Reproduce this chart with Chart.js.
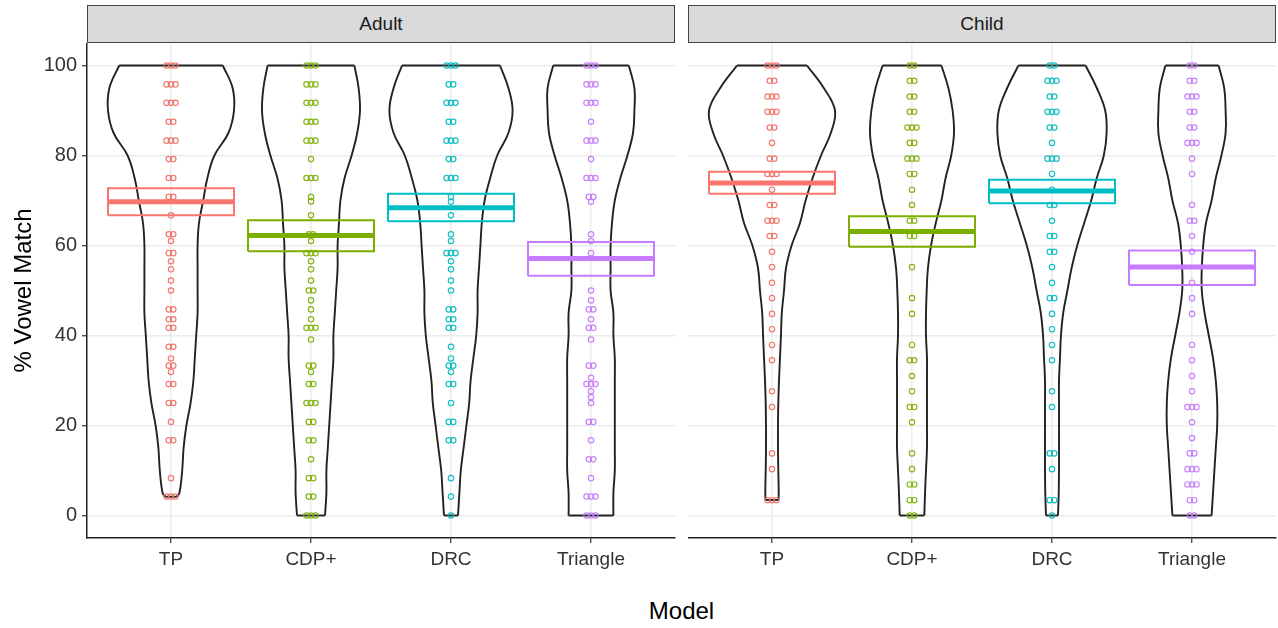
<!DOCTYPE html>
<html>
<head>
<meta charset="utf-8">
<script src="https://cdn.jsdelivr.net/npm/chart.js@4.4.1/dist/chart.umd.min.js"></script>
<style>
  body { margin: 0; background: #fff; }
  #page { position: relative; width: 1278px; height: 628px; font-family: 'Liberation Sans', Arial, sans-serif; }
  .strip {
    position: absolute; top: 5px; width: 588px; height: 38px; box-sizing: border-box;
    background: #d9d9d9; border: 1px solid #444; border-bottom-width: 1.5px;
    text-align: center; line-height: 36px; font-size: 19px; color: #1a1a1a;
  }
  .panel { position: absolute; top: 43px; height: 535px; }
  #xtitle { position: absolute; left: 87px; width: 1189px; top: 597px; text-align: center; font-size: 24px; color: #000; }
</style>
</head>
<body>
<div id="page">
  <div class="strip" style="left:87px">Adult</div>
  <div class="strip" style="left:688px">Child</div>
  <div class="panel" style="left:0; width:676px"><canvas id="adultChart"></canvas></div>
  <div class="panel" style="left:688px; width:590px"><canvas id="childChart"></canvas></div>
  <div id="xtitle">Model</div>
</div>
<script>
const models = ['TP', 'CDP+', 'DRC', 'Triangle'];
const yTicks = [0, 20, 40, 60, 80, 100];

// violin outline: half width (in category units) at these % levels
const violinLevels = [0, 5, 10, 15, 20, 25, 30, 35, 40, 45, 50, 55, 60, 65, 70, 75, 80, 85, 90, 95, 100];

const adultViolinTP = [.04, .06, .08, .09, .11, .14, .16, .17, .18, .19, .19, .19, .19, .20, .23, .26, .31, .41, .45, .44, .37];
const adultViolinCDP = [.10, .11, .11, .12, .13, .14, .15, .16, .16, .17, .18, .19, .19, .20, .21, .24, .29, .33, .35, .34, .31];
const adultViolinDRC = [.05, .06, .07, .09, .11, .13, .14, .16, .18, .19, .19, .20, .21, .22, .24, .28, .33, .41, .44, .41, .35];
const adultViolinTriangle = [.16, .16, .17, .17, .17, .17, .17, .17, .16, .16, .14, .14, .14, .15, .17, .21, .26, .30, .31, .31, .27];
const adultViolinMin = [4.17, 0, 0, 0];

const childViolinTP = [.046, .048, .045, .043, .043, .045, .05, .057, .064, .07, .086, .10, .14, .20, .24, .29, .35, .42, .45, .37, .25];
const childViolinCDP = [.088, .093, .10, .107, .107, .107, .107, .107, .10, .10, .105, .114, .136, .17, .21, .24, .28, .30, .29, .26, .21];
const childViolinDRC = [.043, .048, .05, .05, .05, .05, .05, .057, .064, .08, .11, .14, .18, .23, .28, .32, .37, .39, .38, .32, .24];
const childViolinTriangle = [.14, .15, .16, .17, .18, .18, .17, .15, .12, .09, .07, .07, .08, .10, .14, .17, .21, .24, .24, .23, .19];
const childViolinMin = [3.45, 0, 0, 0];

// crossbars: mean and interval
const adultMean = [69.7, 62.2, 68.4, 57.1];
const adultLow = [66.7, 58.7, 65.4, 53.3];
const adultHigh = [72.7, 65.6, 71.5, 60.8];
const childMean = [73.9, 63.1, 72.1, 55.2];
const childLow = [71.5, 59.7, 69.4, 51.2];
const childHigh = [76.4, 66.5, 74.6, 58.9];

// individual scores
const adultPointsTP = [100, 100, 100, 95.8, 95.8, 95.8, 91.7, 91.7, 91.7, 87.5, 87.5, 83.3, 83.3, 83.3, 79.2, 79.2, 75, 75, 70.8, 70.8, 66.7, 62.5, 62.5, 61.0, 58.3, 58.3, 56.5, 54.7, 52.2, 50, 45.8, 45.8, 43.6, 43.6, 41.7, 41.7, 37.5, 37.5, 34.9, 33.3, 33.3, 31.9, 29.2, 29.2, 25, 25, 20.8, 16.7, 16.7, 8.3, 4.2, 4.2, 4.2];
const adultPointsCDP = [100, 100, 100, 95.8, 95.8, 95.8, 91.7, 91.7, 91.7, 87.5, 87.5, 87.5, 83.3, 83.3, 83.3, 79.2, 75, 75, 75, 70.8, 69.8, 66.7, 62.5, 62.5, 61.0, 58.3, 58.3, 58.3, 56.5, 54.7, 52.2, 50, 50, 47.8, 45.8, 43.6, 41.7, 41.7, 41.7, 39.1, 33.3, 33.3, 31.9, 29.2, 29.2, 25, 25, 25, 20.8, 20.8, 16.7, 16.7, 12.5, 8.3, 8.3, 4.2, 4.2, 0, 0, 0];
const adultPointsDRC = [100, 100, 100, 95.8, 95.8, 91.7, 91.7, 91.7, 87.5, 87.5, 83.3, 83.3, 83.3, 79.2, 79.2, 75, 75, 75, 70.8, 69.7, 66.7, 62.5, 61.0, 58.3, 58.3, 58.3, 56.5, 54.7, 52.2, 50, 45.8, 45.8, 43.6, 43.6, 41.7, 41.7, 37.5, 34.9, 33.3, 33.3, 31.9, 29.2, 29.2, 25, 20.8, 20.8, 16.7, 16.7, 8.3, 4.2, 0];
const adultPointsTriangle = [100, 100, 100, 95.8, 95.8, 95.8, 91.7, 91.7, 91.7, 87.5, 83.3, 83.3, 83.3, 79.2, 75, 75, 75, 70.8, 70.8, 69.7, 62.5, 61.0, 58.3, 50, 47.8, 45.8, 45.8, 43.6, 41.7, 41.7, 39.1, 33.3, 33.3, 30.6, 29.2, 29.2, 29.2, 27.6, 26.3, 25, 20.8, 20.8, 16.7, 12.5, 12.5, 8.3, 4.2, 4.2, 4.2, 0, 0, 0];

const childPointsTP = [100, 100, 100, 96.6, 96.6, 93.1, 93.1, 93.1, 89.7, 89.7, 89.7, 86.2, 86.2, 82.8, 79.3, 79.3, 75.9, 75.9, 75.9, 72.4, 69.0, 69.0, 65.5, 65.5, 65.5, 62.1, 62.1, 58.6, 55.2, 51.7, 48.3, 44.8, 41.4, 37.9, 34.5, 27.6, 24.1, 13.8, 10.3, 3.4, 3.4, 3.4];
const childPointsCDP = [100, 100, 96.6, 96.6, 93.1, 93.1, 89.7, 89.7, 86.2, 86.2, 86.2, 82.8, 82.8, 79.3, 79.3, 79.3, 75.9, 75.9, 72.4, 69.0, 65.5, 65.5, 62.1, 62.1, 55.2, 48.3, 44.8, 37.9, 34.5, 34.5, 31.0, 27.6, 24.1, 24.1, 20.7, 13.8, 10.3, 6.9, 6.9, 3.4, 3.4, 0, 0];
const childPointsDRC = [100, 100, 96.6, 96.6, 96.6, 93.1, 93.1, 89.7, 89.7, 89.7, 86.2, 86.2, 82.8, 79.3, 79.3, 79.3, 75.9, 72.4, 69.0, 69.0, 65.5, 62.1, 62.1, 58.6, 58.6, 55.2, 51.7, 48.3, 48.3, 44.8, 41.4, 37.9, 34.5, 27.6, 24.1, 13.8, 13.8, 10.3, 3.4, 3.4, 0];
const childPointsTriangle = [100, 100, 96.6, 96.6, 93.1, 93.1, 93.1, 89.7, 89.7, 86.2, 86.2, 82.8, 82.8, 82.8, 79.3, 75.9, 69.0, 65.5, 65.5, 62.1, 58.6, 51.7, 48.3, 44.8, 37.9, 34.5, 31.0, 27.6, 24.1, 24.1, 24.1, 20.7, 17.2, 13.8, 13.8, 10.3, 10.3, 10.3, 6.9, 6.9, 6.9, 3.4, 3.4, 0, 0];

const hues = ['#F8766D', '#7CAE00', '#00BFC4', '#C77CFF'];
const pointHues = ['rgba(240,110,100,0.9)', 'rgba(124,174,0,0.9)', 'rgba(0,185,190,0.9)', 'rgba(195,120,250,0.9)'];

Chart.defaults.font.family = "'Liberation Sans', Arial, sans-serif";
Chart.defaults.color = '#333';

function lineSet(data, color, width, order, tension) {
  return {
    data: data, showLine: true, borderColor: color, borderWidth: width,
    backgroundColor: 'transparent', pointRadius: 0, tension: tension || 0,
    borderJoinStyle: 'miter', borderCapStyle: 'butt', order: order
  };
}

function buildDatasets(violins, mins, points, means, lows, highs) {
  const sets = [];
  models.forEach((m, i) => {
    const cx = i + 1;
    const w = violins[i];
    const ys = violinLevels.map(v => Math.max(v, mins[i]));
    const last = ys.length - 1;

    // violin outline
    sets.push(lineSet(ys.map((y, k) => ({ x: cx - w[k], y: y })), '#222', 1.9, 4, 0.4));
    sets.push(lineSet(ys.map((y, k) => ({ x: cx + w[k], y: y })), '#222', 1.9, 4, 0.4));
    sets.push(lineSet([{ x: cx - w[0], y: ys[0] }, { x: cx + w[0], y: ys[0] }], '#222', 1.9, 4));
    sets.push(lineSet([{ x: cx - w[last], y: ys[last] }, { x: cx + w[last], y: ys[last] }], '#222', 1.9, 4));

    // jittered points: spread repeated scores sideways
    const counts = {};
    points[i].forEach(v => { counts[v] = (counts[v] || 0) + 1; });
    const seen = {};
    const pts = points[i].map(v => {
      seen[v] = (seen[v] === undefined) ? 0 : seen[v] + 1;
      return { x: cx + (seen[v] - (counts[v] - 1) / 2) * 0.032, y: v };
    });
    sets.push({
      data: pts, pointRadius: 2.7, pointBorderWidth: 1.2, pointStyle: 'circle',
      borderColor: pointHues[i], backgroundColor: 'transparent', order: 3
    });

    // crossbar
    const hw = 0.45;
    sets.push(lineSet([
      { x: cx - hw, y: lows[i] }, { x: cx + hw, y: lows[i] }, { x: cx + hw, y: highs[i] },
      { x: cx - hw, y: highs[i] }, { x: cx - hw, y: lows[i] }
    ], hues[i], 2, 2));
    sets.push(lineSet([{ x: cx - hw, y: means[i] }, { x: cx + hw, y: means[i] }], hues[i], 5, 1));
  });
  return sets;
}

function makeScales(showY) {
  return {
    x: {
      type: 'linear', min: 0.4, max: 4.6,
      afterBuildTicks: s => { s.ticks = models.map((m, i) => ({ value: i + 1 })); },
      afterFit: s => { s.height = 40; s.paddingLeft = 0; s.paddingRight = 0; },
      ticks: { callback: v => models[v - 1], color: '#333', font: { size: 19 }, padding: 5, maxRotation: 0, autoSkip: false },
      grid: { color: '#ebebeb', lineWidth: 1.5, tickLength: 5, tickColor: '#333', tickWidth: 1.2 },
      border: { color: '#222', width: 1.5 }
    },
    y: {
      min: -5, max: 105,
      afterBuildTicks: s => { s.ticks = yTicks.map(v => ({ value: v })); },
      afterFit: s => { s.width = showY ? 87 : 0; s.paddingTop = 0; s.paddingBottom = 0; },
      ticks: { display: showY, color: '#333', font: { size: 20 }, padding: 5 },
      grid: { color: '#ebebeb', lineWidth: 1.5, tickLength: showY ? 5 : 0, tickColor: '#333', tickWidth: 1.2 },
      border: { display: showY, color: '#222', width: 1.5 },
      title: {
        display: showY, text: '% Vowel Match', color: '#000',
        font: { size: 24 }, padding: { top: 10, bottom: 0 }
      }
    }
  };
}

function makeChart(id, datasets, showY, padRight) {
  return new Chart(document.getElementById(id), {
    type: 'scatter',
    data: { datasets: datasets },
    options: {
      responsive: true,
      maintainAspectRatio: false,
      animation: false,
      events: [],
      layout: { autoPadding: false, padding: { top: 0, bottom: 0, left: 0, right: padRight } },
      plugins: { legend: { display: false }, tooltip: { enabled: false } },
      scales: makeScales(showY)
    }
  });
}

makeChart('adultChart', buildDatasets(
  [adultViolinTP, adultViolinCDP, adultViolinDRC, adultViolinTriangle], adultViolinMin,
  [adultPointsTP, adultPointsCDP, adultPointsDRC, adultPointsTriangle],
  adultMean, adultLow, adultHigh), true, 1);

makeChart('childChart', buildDatasets(
  [childViolinTP, childViolinCDP, childViolinDRC, childViolinTriangle], childViolinMin,
  [childPointsTP, childPointsCDP, childPointsDRC, childPointsTriangle],
  childMean, childLow, childHigh), false, 2);
</script>
</body>
</html>
